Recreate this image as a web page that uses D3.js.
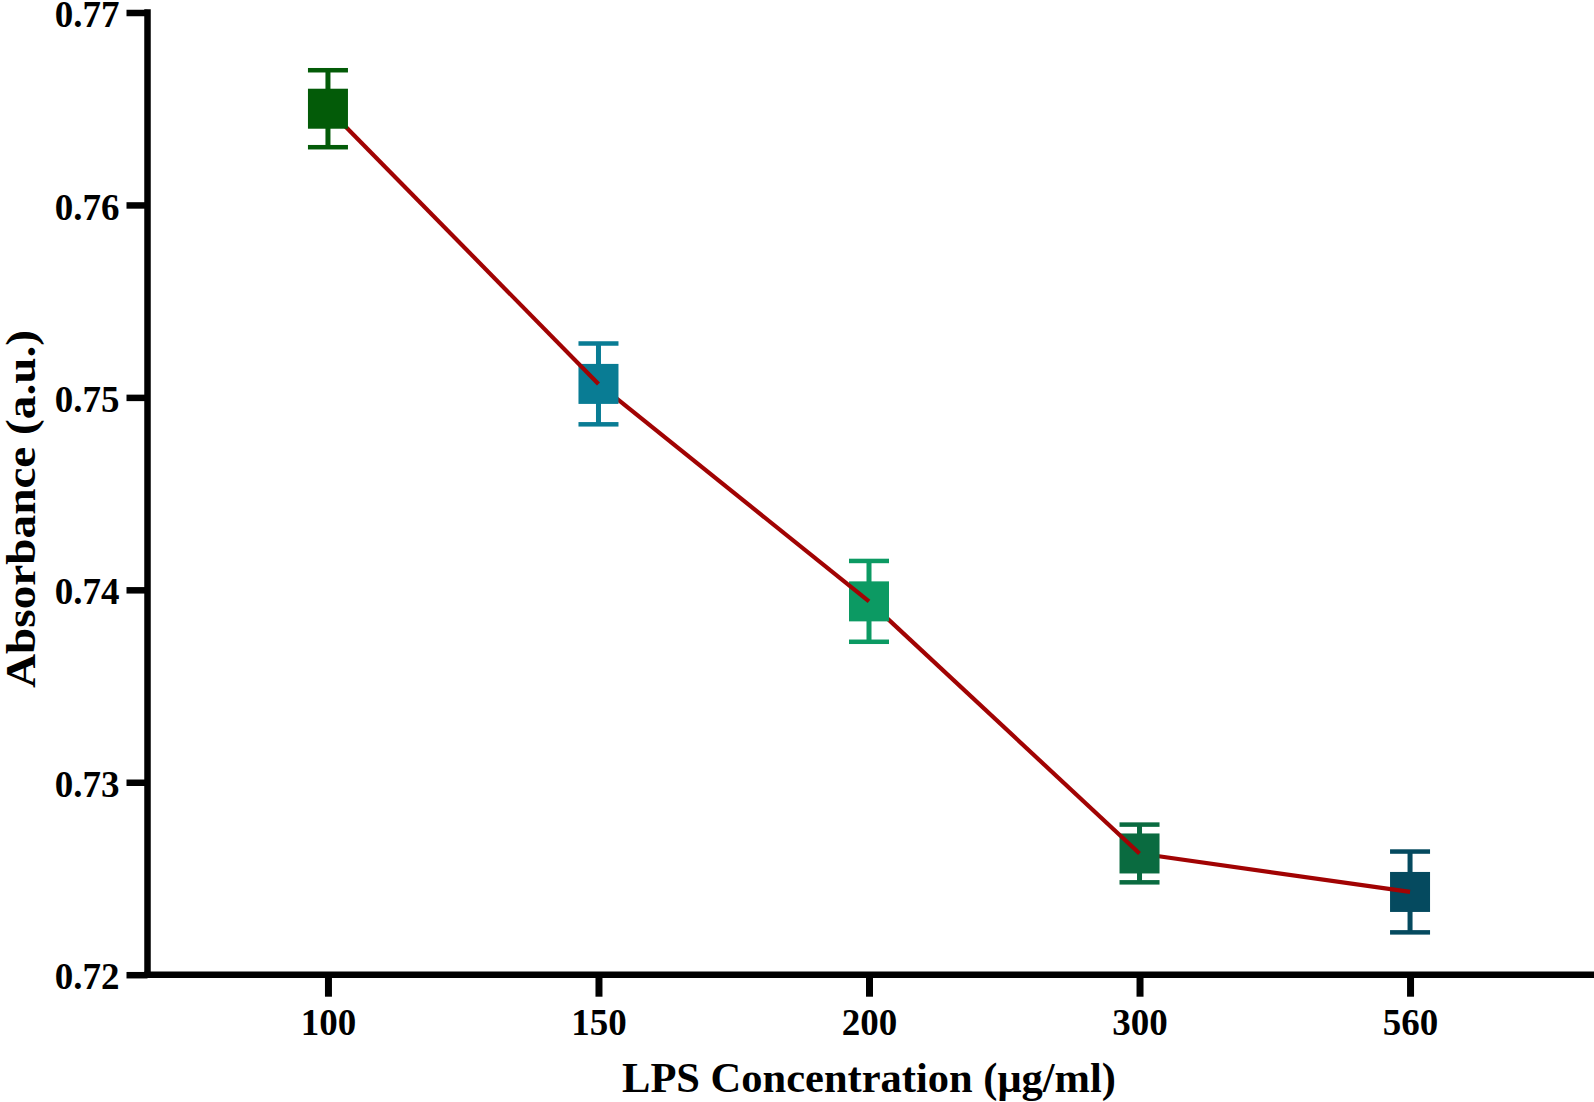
<!DOCTYPE html>
<html>
<head>
<meta charset="utf-8">
<script src="https://cdn.jsdelivr.net/npm/d3@7"></script>
<style>
  html, body { margin: 0; padding: 0; background: #fff; }
  svg { display: block; }
  text { font-family: "Liberation Serif", "Times New Roman", serif; font-weight: bold; fill: #000; }
</style>
</head>
<body>
<svg id="chart" width="1594" height="1102"></svg>
<script>
// ---- data ----
const categories = ["100", "150", "200", "300", "560"];
const means = [0.7650, 0.7507, 0.7394, 0.7263, 0.7243];
const errors = [0.0020, 0.0021, 0.0021, 0.0015, 0.0021];
const markerColors = ["#035b08", "#097c94", "#0c9a63", "#0a6b40", "#054a5f"];
const yTickValues = [0.72, 0.73, 0.74, 0.75, 0.76, 0.77];
const xTitle = "LPS Concentration (μg/ml)";
const yTitle = "Absorbance (a.u.)";

// ---- layout ----
const W = 1594, H = 1102;
const axisX = 147.5, axisY = 974.7, topY = 12.5;
const svg = d3.select("#chart");

const x = d3.scalePoint().domain(categories).range([144, 1594]).padding(0.68);
const y = d3.scaleLinear().domain([0.72, 0.77]).range([axisY, topY]);

const axisW = 6.5;
const tickFont = 37;

// y axis ticks
const gy = svg.append("g").attr("transform", `translate(${axisX},0)`)
  .call(d3.axisLeft(y).tickValues(yTickValues).tickSize(21).tickSizeOuter(0).tickPadding(7)
    .tickFormat(d3.format(".2f")));
gy.select(".domain").remove();
gy.selectAll(".tick line").attr("stroke", "#000").attr("stroke-width", axisW);
gy.selectAll(".tick text").attr("font-size", tickFont).attr("dy", "0.38em")
  .style("font-family", "'Liberation Serif', 'Times New Roman', serif").style("font-weight", "bold");

// x axis ticks
const gx = svg.append("g").attr("transform", `translate(0,${axisY})`)
  .call(d3.axisBottom(x).tickSize(22).tickSizeOuter(0).tickPadding(12));
gx.select(".domain").remove();
gx.selectAll(".tick line").attr("stroke", "#000").attr("stroke-width", 7);
gx.selectAll(".tick text").attr("font-size", tickFont)
  .style("font-family", "'Liberation Serif', 'Times New Roman', serif").style("font-weight", "bold");

// axis lines
svg.append("line").attr("x1", axisX).attr("x2", axisX)
  .attr("y1", topY - axisW / 2).attr("y2", axisY + axisW / 2)
  .attr("stroke", "#000").attr("stroke-width", axisW);
svg.append("line").attr("x1", axisX - axisW / 2).attr("x2", W + 10)
  .attr("y1", axisY).attr("y2", axisY)
  .attr("stroke", "#000").attr("stroke-width", axisW);

// ---- marks (drawn last-to-first so each incoming segment sits on its marker) ----
const marks = svg.append("g");
const sq = 40, capW = 40, capH = 4.5, stemW = 5;
const lineColor = "#a10303";

for (let i = categories.length - 1; i >= 0; i--) {
  const cx = x(categories[i]);
  const cy = y(means[i]);
  const top = y(means[i] + errors[i]);
  const bot = y(means[i] - errors[i]);
  const c = markerColors[i];
  const g = marks.append("g");
  g.append("rect").attr("x", cx - stemW / 2).attr("y", top).attr("width", stemW).attr("height", bot - top).attr("fill", c);
  g.append("rect").attr("x", cx - capW / 2).attr("y", top - capH / 2).attr("width", capW).attr("height", capH).attr("fill", c);
  g.append("rect").attr("x", cx - capW / 2).attr("y", bot - capH / 2).attr("width", capW).attr("height", capH).attr("fill", c);
  g.append("rect").attr("x", cx - sq / 2).attr("y", cy - sq / 2).attr("width", sq).attr("height", sq).attr("fill", c);
  if (i > 0) {
    marks.append("line")
      .attr("x1", x(categories[i - 1])).attr("y1", y(means[i - 1]))
      .attr("x2", cx).attr("y2", cy)
      .attr("stroke", lineColor).attr("stroke-width", 4.2);
  }
}

// ---- titles ----
svg.append("text").attr("x", 869).attr("y", 1092).attr("text-anchor", "middle")
  .attr("font-size", 42.5).text(xTitle);
svg.append("text").attr("transform", `translate(34.5,509) rotate(-90)`).attr("text-anchor", "middle")
  .attr("font-size", 43).attr("textLength", 358).attr("lengthAdjust", "spacingAndGlyphs").text(yTitle);
</script>
</body>
</html>
